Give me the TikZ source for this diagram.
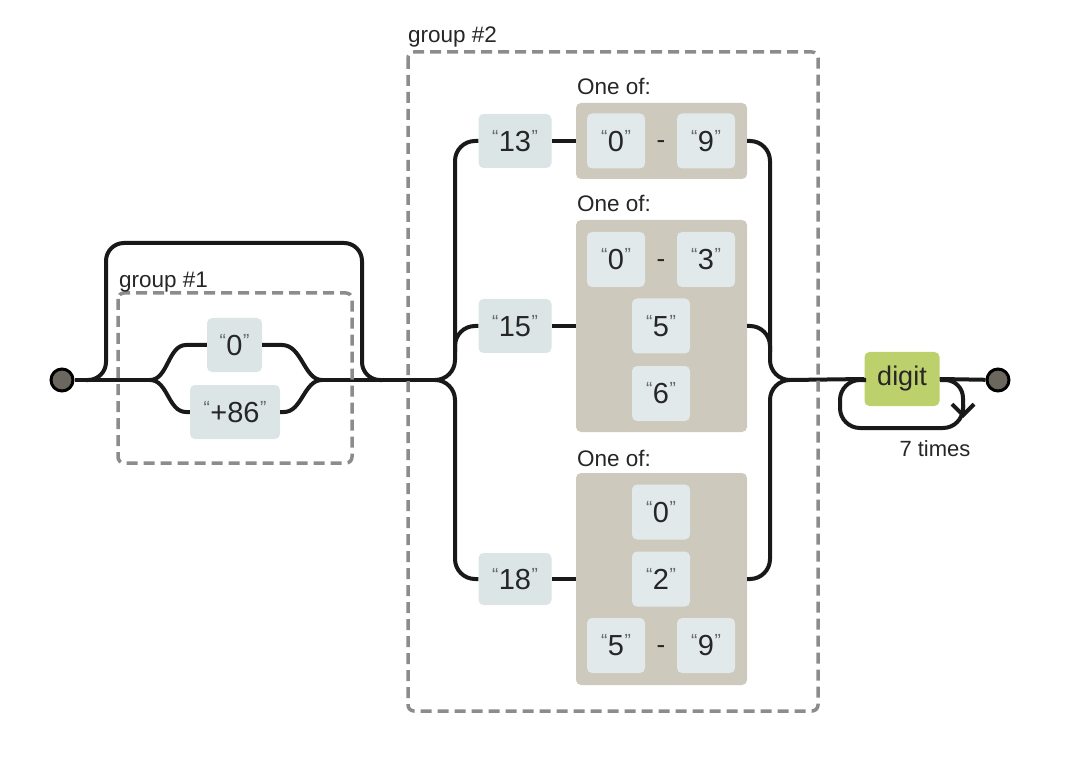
\documentclass[tikz,border=0pt]{standalone}
\usepackage{fontspec}
\setmainfont{Liberation Sans}
\usetikzlibrary{arrows.meta}
\definecolor{litfill}{HTML}{DCE5E5}
\definecolor{innerfill}{HTML}{E1E9EB}
\definecolor{setfill}{HTML}{CDC9BC}
\definecolor{dashgray}{HTML}{8C8C8C}
\definecolor{digitfill}{HTML}{BCD16B}
\definecolor{dotfill}{HTML}{6B665E}
\newcommand{\qlit}[1]{\raisebox{8pt}{\fontsize{19}{19}\selectfont\color{black!60}“}\kern0.5pt#1\kern0.5pt\raisebox{8pt}{\fontsize{19}{19}\selectfont\color{black!60}”}}
\tikzset{
  lit/.style={fill=litfill, rounded corners=5pt, minimum height=54pt, inner sep=0pt, font=\fontsize{29}{29}\selectfont, text=black!85},
  nlit/.style={lit, minimum width=73pt},
  inlit/.style={lit, fill=innerfill, minimum width=58pt, minimum height=55pt},
  setbox/.style={fill=setfill, rounded corners=5pt, minimum width=171pt, inner sep=0pt},
  rail/.style={line width=4pt, black!90},
  grp/.style={draw=dashgray, line width=3.5pt, dash pattern=on 11pt off 6pt, rounded corners=6pt},
  lbl/.style={font=\fontsize{22.5}{22.5}\selectfont, anchor=base west, text=black!85, inner sep=0pt},
  dot/.style={circle, fill=dotfill, draw=black, line width=3pt, minimum size=22pt, inner sep=0pt},
  dashtxt/.style={font=\fontsize{26}{26}\selectfont, text=black!85, inner sep=0pt}
}
\begin{document}
\begin{tikzpicture}[x=1pt,y=-1pt]
\useasboundingbox (0,0) rectangle (1080,770);
% junction coordinates
\coordinate (split1) at (150,380);
\coordinate (merge1) at (322,380);
\coordinate (split2) at (435,380);
\coordinate (merge2) at (790,380);
% start / end
\node[dot] (start) at (62,380) {};
\node[dot] (end) at (998,380) {};
% group 1 literals
\node[lit, minimum width=55pt] (z0) at (234.5,345) {\qlit{0}};
\node[lit, minimum width=90pt] (p86) at (235,412) {\qlit{+86}};
% group 2 rows
\node[nlit] (n13) at (515,141) {\qlit{13}};
\node[nlit] (n15) at (515,326) {\qlit{15}};
\node[nlit, minimum height=52pt] (n18) at (515,579) {\qlit{18}};
% set boxes
\node[setbox, minimum height=76pt] (s1) at (661.5,141) {};
\node[setbox, minimum height=212pt] (s2) at (661.5,326) {};
\node[setbox, minimum height=212pt] (s3) at (661.5,579) {};
\node[lbl] (o1) at (577,95) {One of:};
\node[lbl] (o2) at (577,212) {One of:};
\node[lbl] (o3) at (577,466) {One of:};
% set 1
\node[inlit] (a0) at (616,141) {\qlit{0}};
\node[dashtxt] (ad) at (661,145) {-};
\node[inlit] (a9) at (706,141) {\qlit{9}};
% set 2
\node[inlit] (b0) at (616,259.5) {\qlit{0}};
\node[dashtxt] (bd) at (661,263.5) {-};
\node[inlit] (b3) at (706,259.5) {\qlit{3}};
\node[inlit] (b5) at (661,326) {\qlit{5}};
\node[inlit] (b6) at (661,393.5) {\qlit{6}};
% set 3
\node[inlit] (c0) at (661,512) {\qlit{0}};
\node[inlit] (c2) at (661,579) {\qlit{2}};
\node[inlit] (c5) at (616,645.5) {\qlit{5}};
\node[dashtxt] (cd) at (661,649.5) {-};
\node[inlit] (c9) at (706,645.5) {\qlit{9}};
% digit
\node[lit, fill=digitfill, minimum width=75pt, font=\fontsize{27}{27}\selectfont] (dg) at (902,379) {digit};
\node[font=\fontsize{22}{22}\selectfont, text=black!85, inner sep=0pt, anchor=base] (times) at (935,456) {7 times};

% rails
\draw[rail] (start) -- (split1);
\draw[rail] (split1) .. controls (168,380) and (168,345) .. (186,345) -- (z0.west);
\draw[rail] (split1) .. controls (168,380) and (168,412) .. (186,412) -- (p86.west);
\draw[rail] (z0.east) -- (282,345) .. controls (302,345) and (304,380) .. (merge1);
\draw[rail] (p86.east) -- (284,412) .. controls (302,412) and (304,380) .. (merge1);
\draw[rail, rounded corners=18pt] (86,380) -- (106,380) -- (106,243) -- (362,243) -- (362,380) -- (382,380);
\draw[rail] (merge1) -- (split2);
\draw[rail, rounded corners=20pt] (n13.west) -- (455,141) -- (455,380) -- (split2);
\draw[rail, rounded corners=20pt] (n18.west) -- (455,579) -- (455,380) -- (split2);
\draw[rail, rounded corners=20pt] (n15.west) -- (455,326) -- (455,352);
\draw[rail] (n13.east) -- (s1.west);
\draw[rail] (n15.east) -- (s2.west);
\draw[rail] (n18.east) -- (s3.west);
\draw[rail, rounded corners=20pt] (s1.east) -- (770,141) -- (770,380) -- (merge2);
\draw[rail, rounded corners=20pt] (s3.east) -- (770,579) -- (770,380) -- (merge2);
\draw[rail, rounded corners=20pt] (s2.east) -- (770,326) -- (770,352);
\draw[rail] (merge2) -- (dg.west);
\draw[rail] (dg.east) -- (end);
% repeat loop
\coordinate (lpa) at (940,380);
\coordinate (lpb) at (963,418);
\coordinate (lpc) at (963,405);
\coordinate (lpd) at (866,380);
\draw[rail, rounded corners=18pt, -{Straight Barb[length=11pt,width=22pt]}] (lpa) -- (963,380) -- (lpb);
\draw[rail, rounded corners=20pt] (lpc) -- (963,428) -- (840,428) -- (840,380) -- (lpd);
% groups (drawn on top of rails)
\draw[grp] (118,293) rectangle (352,463);
\draw[grp] (408,52) rectangle (818,711);
\node[lbl] (g1) at (119,288) {group \#1};
\node[lbl] (g2) at (408,43) {group \#2};
\end{tikzpicture}
\end{document}
